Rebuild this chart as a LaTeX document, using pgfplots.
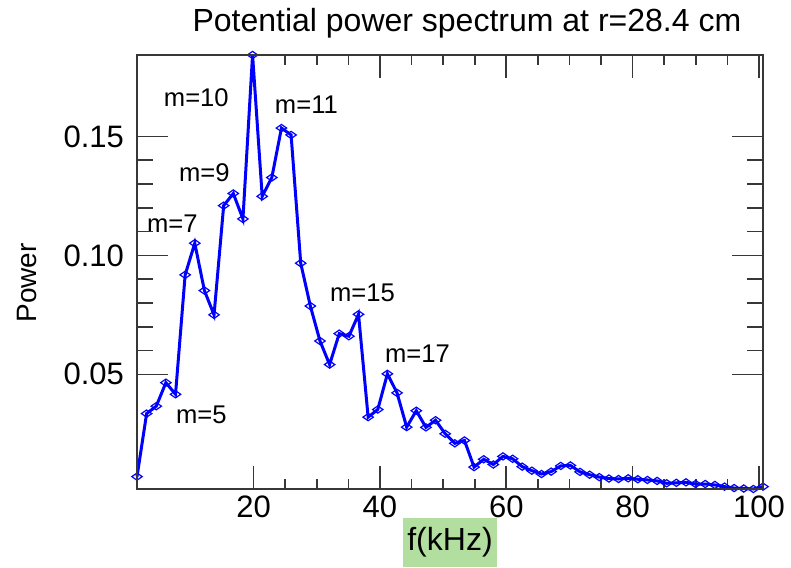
\documentclass[border=0pt]{standalone}
\usepackage{fontspec}
\setmainfont{Liberation Sans}
\usepackage{pgfplots}
\pgfplotsset{compat=1.18}

\definecolor{labelgreen}{RGB}{178,222,160}
\definecolor{axisgray}{RGB}{55,55,55}

% hollow diamond, wider than tall
\pgfdeclareplotmark{flatdiamond}{%
  \pgfpathmoveto{\pgfqpoint{-2.6pt}{0pt}}%
  \pgfpathlineto{\pgfqpoint{0pt}{1.8pt}}%
  \pgfpathlineto{\pgfqpoint{2.6pt}{0pt}}%
  \pgfpathlineto{\pgfqpoint{0pt}{-1.8pt}}%
  \pgfpathclose
  \pgfusepathqstroke
}

\pgfplotsset{
  spec/.style={
    scale only axis, width=313pt, height=217pt,
    xmin=1.525, xmax=100.65, ymin=0.0018, ymax=0.1842,
    axis line style={axisgray, line width=0.9pt},
    tick style={axisgray, line width=0.8pt},
    tick label style={font=\fontsize{15.5}{18}\selectfont},
    /pgf/number format/assume math mode=true,
    clip=false,
  }
}

\begin{document}
\begin{tikzpicture}
\useasboundingbox (-68.5pt,-39pt) rectangle (327pt,244.5pt);
% frequency axis, spectrum and mode labels
\begin{axis}[spec,
    xtick={20,40,60,80,100}, minor x tick num=3,
    ytick=\empty,
    major tick length=11.3pt, minor tick length=5pt,
    xlabel={f(kHz)},
    xlabel style={font=\fontsize{16}{19}\selectfont, at={(axis description cs:0.5,-0.1233)}, anchor=center,
      fill=labelgreen, minimum width=47pt, minimum height=24.5pt, inner sep=0pt},
    ylabel={Power},
    ylabel style={font=\fontsize{14}{17}\selectfont, at={(axis description cs:-0.1757,0.4747)}, anchor=center, rotate=0},
  ]
\addplot[blue, line width=1.5pt, mark=flatdiamond, mark options={line width=0.6pt, solid}] coordinates {
  (1.525,0.0070) (3.05,0.0335) (4.575,0.0366) (6.1,0.0465) (7.625,0.0416)
  (9.15,0.0918) (10.675,0.1051) (12.2,0.0852) (13.725,0.0750) (15.25,0.1209)
  (16.775,0.1260) (18.3,0.1153) (19.825,0.1842) (21.35,0.1248) (22.875,0.1327)
  (24.4,0.1535) (25.925,0.1506) (27.45,0.0967) (28.975,0.0787) (30.5,0.0640)
  (32.025,0.0541) (33.55,0.0671) (35.075,0.0660) (36.6,0.0752) (38.125,0.0320)
  (39.65,0.0352) (41.175,0.0502) (42.7,0.0422) (44.225,0.0278) (45.75,0.0347)
  (47.275,0.0277) (48.8,0.0307) (50.325,0.0250) (51.85,0.0210) (53.375,0.0222)
  (54.9,0.0110) (56.425,0.0143) (57.95,0.0121) (59.475,0.0155) (61,0.0145)
  (62.525,0.0112) (64.05,0.0095) (65.575,0.0081) (67.1,0.0091) (68.625,0.0115)
  (70.15,0.0117) (71.675,0.0090) (73.2,0.0078) (74.725,0.0068) (76.25,0.0062)
  (77.775,0.0060) (79.3,0.0063) (80.825,0.0059) (82.35,0.0056) (83.875,0.0052)
  (85.4,0.0042) (86.925,0.0044) (88.45,0.0046) (89.975,0.0039) (91.5,0.0039)
  (93.025,0.0035) (94.55,0.0028) (96.075,0.0022) (97.6,0.0020) (99.125,0.0018)
  (100.65,0.0028)
};
\node[font=\fontsize{16}{19}\selectfont, anchor=center, inner sep=0pt]
  at (rel axis cs:0.527,1.0737) {Potential power spectrum at r=28.4 cm};
\begin{scope}[every node/.style={font=\fontsize{12.8}{15}\selectfont, anchor=center, inner sep=0pt}]
\node at (axis cs:10.92,0.1662) {m=10};
\node at (axis cs:28.35,0.1632) {m=11};
\node at (axis cs:12.19,0.1347) {m=9};
\node at (axis cs:7.12,0.1133) {m=7};
\node at (axis cs:11.71,0.0328) {m=5};
\node at (axis cs:37.23,0.0844) {m=15};
\node at (axis cs:45.94,0.0588) {m=17};
\end{scope}
\end{axis}
% power axis ticks
\begin{axis}[spec,
    xtick=\empty,
    ytick={0.05,0.10,0.15}, yticklabels={0.05,0.10,0.15},
    yticklabel style={xshift=-3pt},
    minor y tick num=4,
    major tick length=15.5pt, minor tick length=8pt,
  ]
\end{axis}
\end{tikzpicture}
\end{document}
